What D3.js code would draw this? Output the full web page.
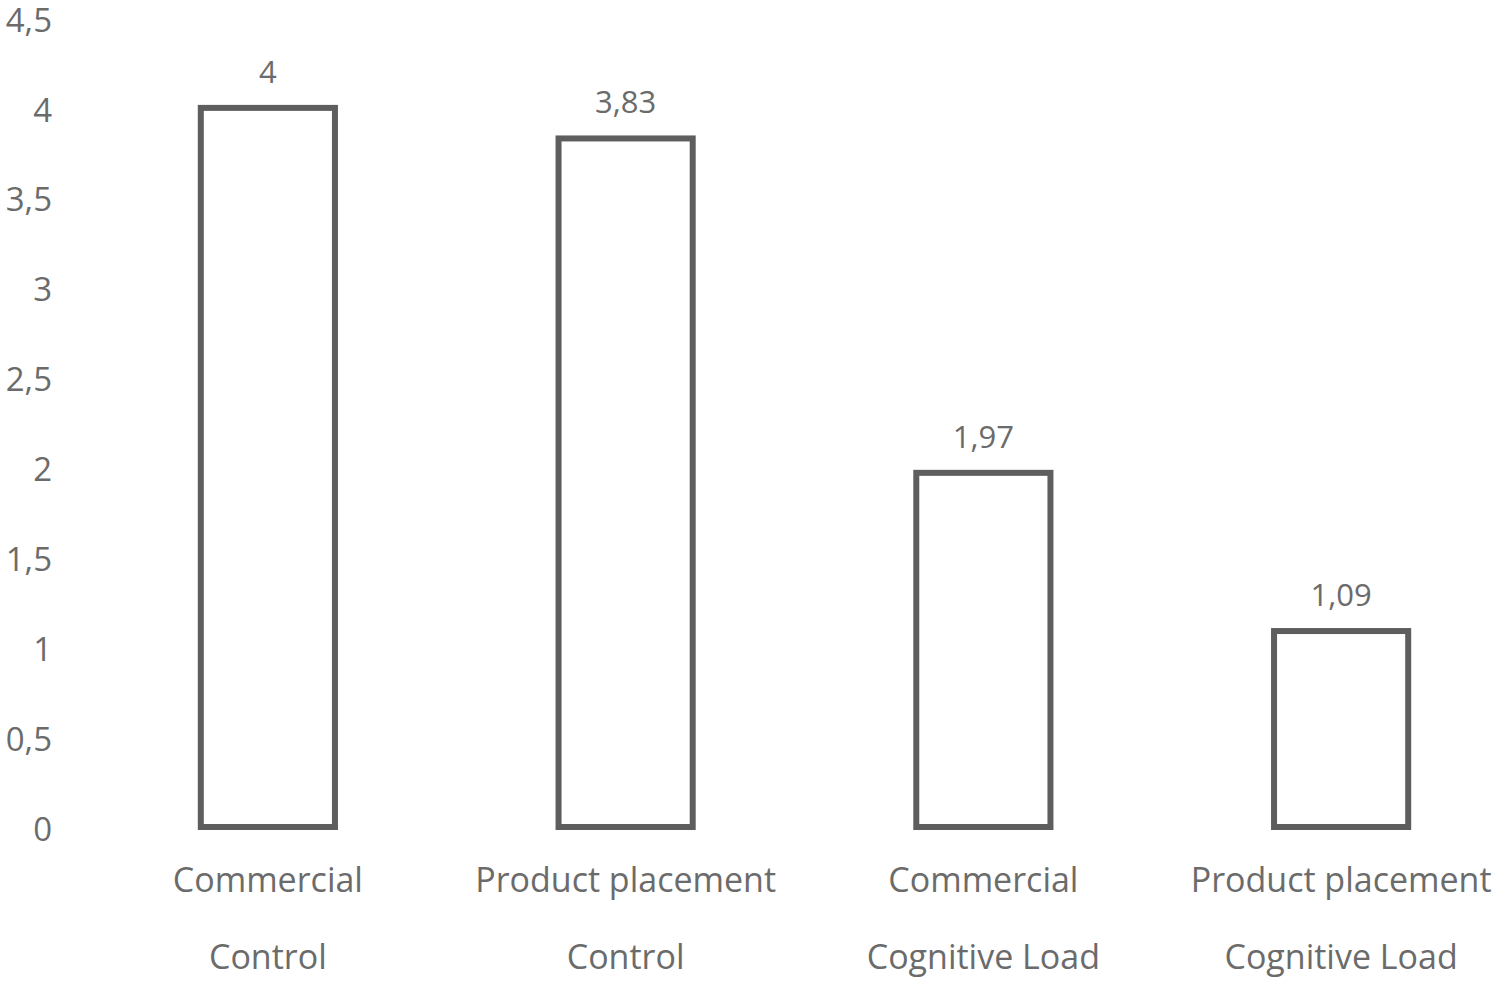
<!DOCTYPE html>
<html><head><meta charset="utf-8">
<script src="https://cdn.jsdelivr.net/npm/d3@7"></script>
<style>html,body{margin:0;padding:0;background:#fff;}svg{display:block;}</style>
</head><body>
<svg id="chart" width="1500" height="986"></svg>
<script>
const categoriesLine1 = ["Commercial", "Product placement", "Commercial", "Product placement"];
const categoriesLine2 = ["Control", "Control", "Cognitive Load", "Cognitive Load"];
const values = [4, 3.83, 1.97, 1.09];
const valueLabels = ["4", "3,83", "1,97", "1,09"];
const yTicks = [0, 0.5, 1, 1.5, 2, 2.5, 3, 3.5, 4, 4.5];

const svg = d3.select("#chart");
const font = "'Open Sans', sans-serif";
const textColor = "#6b6b6b";
const barColor = "#5e5e5e";

const y = d3.scaleLinear().domain([0, 4.5]).range([827, 18]);
const x = d3.scaleBand().domain(d3.range(values.length)).range([89, 1520]).paddingInner(0.625).paddingOuter(0.3125);

const yAxis = svg.append("g").attr("transform", "translate(52,0)")
  .call(d3.axisLeft(y).tickValues(yTicks).tickSize(0).tickPadding(0)
    .tickFormat(d => String(d).replace(".", ",")));
yAxis.select(".domain").remove();
yAxis.selectAll("text").attr("font-family", font).attr("font-size", 33).attr("fill", textColor)
  .attr("dy", "0.4em");

svg.append("g").selectAll("rect").data(values).join("rect")
  .attr("x", (d, i) => x(i))
  .attr("width", x.bandwidth())
  .attr("y", d => y(d))
  .attr("height", d => y(0) - y(d))
  .attr("fill", "#fff")
  .attr("stroke", barColor)
  .attr("stroke-width", 6);

svg.append("g").selectAll("text").data(values).join("text")
  .attr("x", (d, i) => x(i) + x.bandwidth() / 2)
  .attr("y", d => y(d) - 36)
  .attr("dy", "0.35em")
  .attr("text-anchor", "middle")
  .attr("font-family", font).attr("font-size", 31).attr("fill", textColor)
  .text((d, i) => valueLabels[i]);

const cat = svg.append("g");
cat.selectAll("text.l1").data(categoriesLine1).join("text").attr("class", "l1")
  .attr("x", (d, i) => x(i) + x.bandwidth() / 2).attr("y", 880).attr("dy", "0.35em")
  .attr("text-anchor", "middle").attr("font-family", font).attr("font-size", 34).attr("fill", textColor)
  .text(d => d);
cat.selectAll("text.l2").data(categoriesLine2).join("text").attr("class", "l2")
  .attr("x", (d, i) => x(i) + x.bandwidth() / 2).attr("y", 957).attr("dy", "0.35em")
  .attr("text-anchor", "middle").attr("font-family", font).attr("font-size", 34).attr("fill", textColor)
  .text(d => d);
</script>
</body></html>
